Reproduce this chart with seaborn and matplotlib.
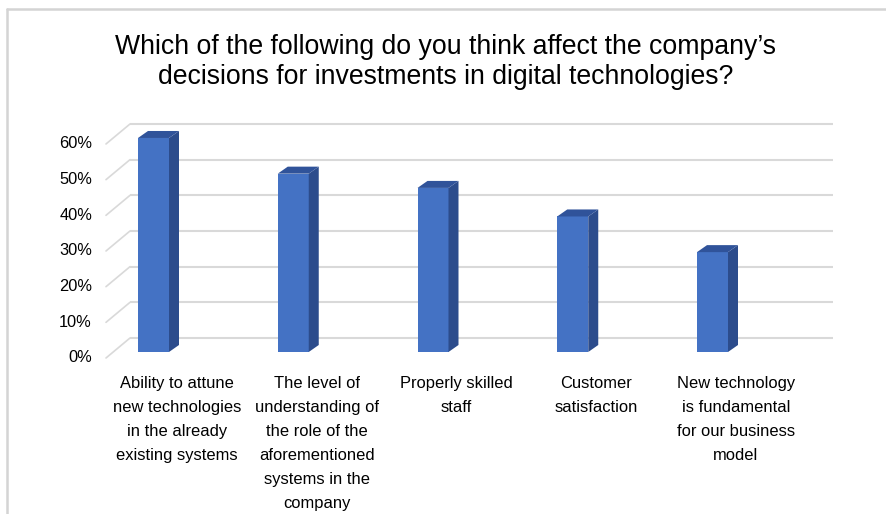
import numpy as np
import pandas as pd
import matplotlib
matplotlib.use("Agg")
import matplotlib.pyplot as plt
from matplotlib.patches import Polygon
from matplotlib.lines import Line2D
import seaborn as sns

# ---- data ----
categories = [
    "Ability to attune\nnew technologies\nin the already\nexisting systems",
    "The level of\nunderstanding of\nthe role of the\naforementioned\nsystems in the\ncompany",
    "Properly skilled\nstaff",
    "Customer\nsatisfaction",
    "New technology\nis fundamental\nfor our business\nmodel",
]
shares = [0.60, 0.50, 0.46, 0.38, 0.28]
tick_values = [0.0, 0.1, 0.2, 0.3, 0.4, 0.5, 0.6]
tick_labels = ["0%", "10%", "20%", "30%", "40%", "50%", "60%"]
title = ("Which of the following do you think affect the company\u2019s\n"
         "decisions for investments in digital technologies?")

df = pd.DataFrame({"factor": categories, "share": shares})

# ---- style ----
sns.set_style("white")
plt.rcParams["font.family"] = ["Liberation Sans", "DejaVu Sans"]

W, H, DPI = 886, 514, 100
fig = plt.figure(figsize=(W / DPI, H / DPI), dpi=DPI)

# pixel geometry of the plotting area (bar front plane)
SLOT = 139.75          # px per category
X0 = 153.5             # px of first bar centre
Y0 = 352.0             # px of the value 0 on the bar plane
YS = 356.7             # px per 1.0 (100 %)

def dx(px):
    return px / SLOT

def dy(px):
    return px / YS

ax_l, ax_r, ax_t, ax_b = 40, 870, 110, 370
ax = fig.add_axes([ax_l / W, 1 - ax_b / H, (ax_r - ax_l) / W, (ax_b - ax_t) / H])

front = "#4472C4"
side = "#2C4C8C"
top = "#30539A"
grid = "#D9D9D9"

# back wall grid and floor diagonals of the 3-D box
back_left = (130 - X0) / SLOT
front_left = (106 - X0) / SLOT
right = (833 - X0) / SLOT
for v in tick_values:
    ax.plot([back_left, right], [v + dy(14), v + dy(14)], color=grid,
            lw=1.5, zorder=1, solid_capstyle="butt")
    ax.plot([front_left, back_left], [v - dy(6), v + dy(14)], color=grid,
            lw=1.2, zorder=1)

# bar fronts
bw = 31 / SLOT
sns.barplot(data=df, x="factor", y="share", color=front, saturation=1,
            width=bw, ax=ax, zorder=3, linewidth=0)
ax.set_xlim((ax_l - X0) / SLOT, (ax_r - X0) / SLOT)
ax.set_ylim((Y0 - ax_b) / YS, (Y0 - ax_t) / YS)
ax.axis("off")

# depth faces of each bar
ddx, ddy = dx(10), dy(7)
for p in list(ax.patches):
    x, w, h = p.get_x(), p.get_width(), p.get_height()
    ax.add_patch(Polygon([(x + w, 0), (x + w + ddx, ddy), (x + w + ddx, h + ddy),
                          (x + w, h)], closed=True, facecolor=side,
                         edgecolor="none", zorder=3))
    ax.add_patch(Polygon([(x, h), (x + w, h), (x + w + ddx, h + ddy),
                          (x + ddx, h + ddy)], closed=True, facecolor=top,
                         edgecolor="none", zorder=3))

# value axis labels
for v, lab in zip(tick_values, tick_labels):
    ax.text((92 - X0) / SLOT, v - dy(6), lab, ha="right", va="center",
            fontsize=11.8, color="#000000")

# category labels
for i, lab in enumerate(categories):
    ax.text(i + dx(23.5), (Y0 - 376) / YS, lab, ha="center", va="top",
            fontsize=11.9, linespacing=1.75, color="#000000", clip_on=False)

fig.text(446 / W, 1 - 34 / H, title, ha="center", va="top", fontsize=19.2,
         linespacing=1.2, color="#000000")

# chart frame
fig.add_artist(Line2D([7 / W, 1], [1 - 8.5 / H, 1 - 8.5 / H], color="#D4D4D4",
                      lw=1.8, transform=fig.transFigure))
fig.add_artist(Line2D([7 / W, 7 / W], [0, 1 - 8.5 / H], color="#D4D4D4",
                      lw=1.8, transform=fig.transFigure))

fig.savefig("out.png", dpi=DPI)
